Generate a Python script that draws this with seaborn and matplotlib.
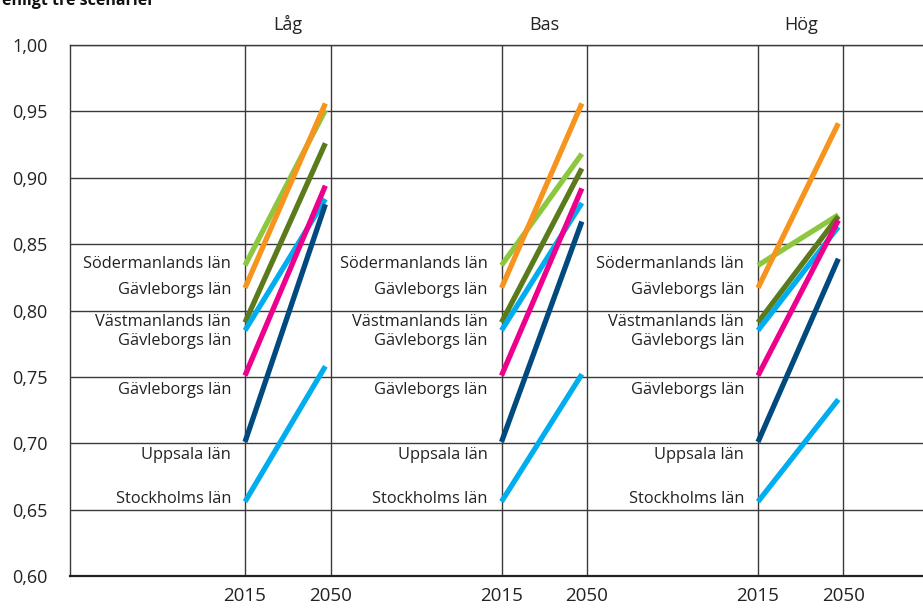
import pandas as pd
import matplotlib.pyplot as plt
import seaborn as sns

# data
scenarios = ['Låg', 'Bas', 'Hög']
years = ['2015', '2050']
series_ids = ['s1', 's2', 's3', 's4', 's5', 's6', 's7']
series_labels = ['Södermanlands län', 'Gävleborgs län', 'Västmanlands län',
                 'Gävleborgs län', 'Gävleborgs län', 'Uppsala län', 'Stockholms län']
label_y = [0.835, 0.8155, 0.791, 0.777, 0.740, 0.691, 0.658]
colors = ['#8dc63f', '#f7941d', '#5a7a1c', '#00aeef', '#ec008c', '#004a80', '#00aeef']

val_2015 = [0.834, 0.817, 0.791, 0.785, 0.751, 0.701, 0.656]
val_2050_lag = [0.951, 0.956, 0.926, 0.884, 0.894, 0.880, 0.758]
val_2050_bas = [0.918, 0.956, 0.907, 0.881, 0.892, 0.867, 0.752]
val_2050_hog = [0.872, 0.941, 0.871, 0.863, 0.868, 0.839, 0.733]
val_2050 = {'Låg': val_2050_lag, 'Bas': val_2050_bas, 'Hög': val_2050_hog}

yticks = [0.60, 0.65, 0.70, 0.75, 0.80, 0.85, 0.90, 0.95, 1.00]

# layout: each scenario gets a 2015 and 2050 slot
slot = {'2015': 2.0, '2050': 3.0}
line_end = 2.94

rows = []
for k, sc in enumerate(scenarios):
    for i, s in enumerate(series_ids):
        rows.append({'series': s, 'scenario': sc, 'x': k * 3 + slot['2015'], 'value': val_2015[i]})
        rows.append({'series': s, 'scenario': sc, 'x': k * 3 + line_end, 'value': val_2050[sc][i]})
df = pd.DataFrame(rows)

sns.set_style('white')
plt.rcParams['font.family'] = ['Open Sans', 'DejaVu Sans']

fig = plt.figure(figsize=(9.23, 6.10), dpi=100)
ax = fig.add_axes([70 / 923, 34 / 610, 853 / 923, 531 / 610])

grid_col = '#3a3a3a'
xt = [k * 3 + slot[y] for k in range(len(scenarios)) for y in years]
ax.set_xticks(xt)
ax.set_xticklabels(years * len(scenarios), fontsize=13.5, color='#222222')
ax.set_yticks(yticks)
ax.set_yticklabels([f'{v:.2f}'.replace('.', ',') for v in yticks], fontsize=13, color='#222222')
ax.tick_params(axis='both', length=0)
ax.tick_params(axis='y', pad=16)
ax.tick_params(axis='x', pad=8)
ax.grid(True, color=grid_col, lw=1.0)
ax.set_axisbelow(True)

sns.lineplot(data=df, x='x', y='value', hue='series', units='scenario',
             estimator=None, hue_order=series_ids,
             palette=dict(zip(series_ids, colors)), legend=False,
             lw=3.8, solid_capstyle='butt', sort=False, ax=ax)

ax.set_xlim(-0.047, 9.93)
ax.set_ylim(0.60, 1.00)
ax.set_xlabel('')
ax.set_ylabel('')
ax.spines['right'].set_visible(False)
ax.spines['top'].set_color(grid_col)
ax.spines['top'].set_linewidth(1.0)
ax.spines['left'].set_color(grid_col)
ax.spines['left'].set_linewidth(1.0)
ax.spines['bottom'].set_color('#222222')
ax.spines['bottom'].set_linewidth(1.6)

# panel titles and series labels
for k, sc in enumerate(scenarios):
    ax.text(k * 3 + 2.5, 1.038, sc, transform=ax.get_xaxis_transform(),
            ha='center', va='center', fontsize=13, color='#222222')
    for lab, ly in zip(series_labels, label_y):
        ax.text(k * 3 + slot['2015'] - 0.16, ly, lab, ha='right', va='center',
                fontsize=11.8, color='#222222')

fig.text(2 / 923, 1 - 5 / 610, 'enligt tre scenarier', fontsize=11.5,
         fontweight='bold', ha='left', va='baseline', color='#111111')

fig.savefig('out.png', dpi=100)
